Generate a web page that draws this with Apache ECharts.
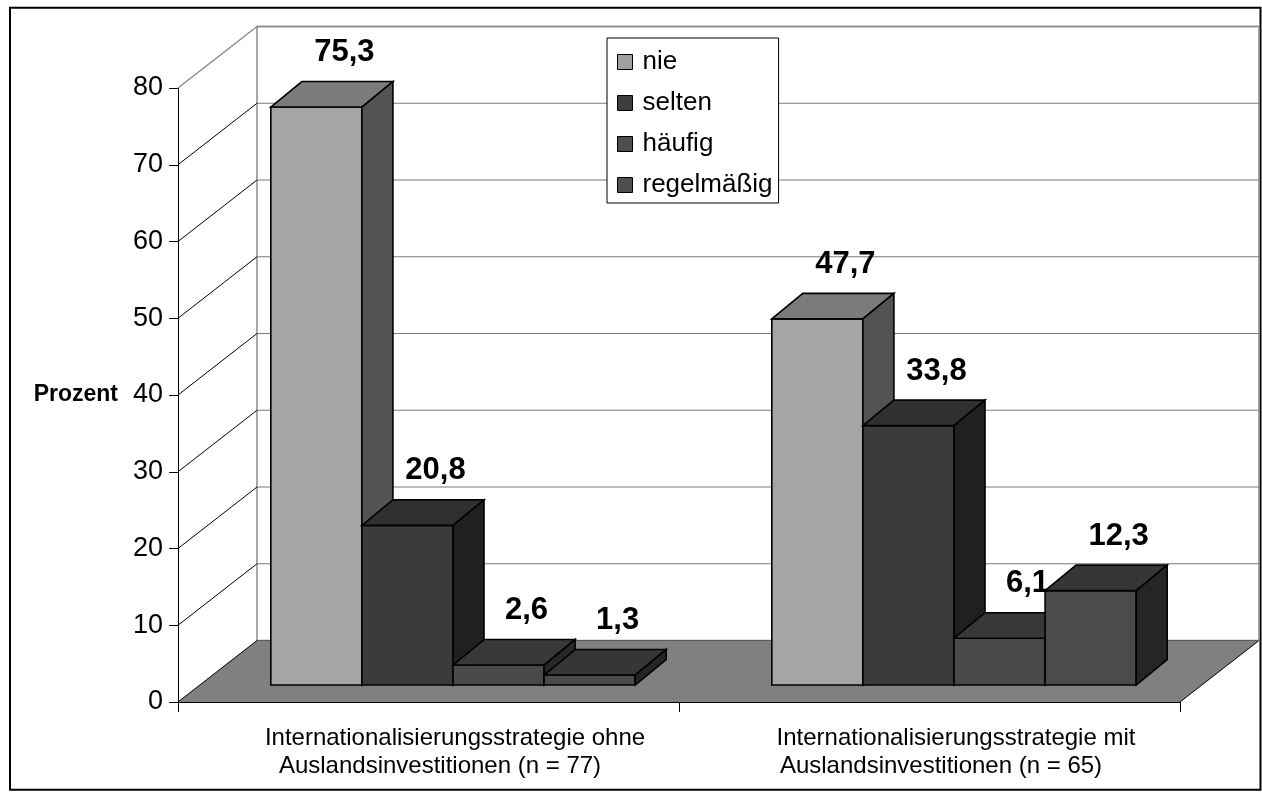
<!DOCTYPE html>
<html>
<head>
<meta charset="utf-8">
<script src="https://cdn.jsdelivr.net/npm/echarts@6/dist/echarts.min.js"></script>
<style>
  html, body { margin: 0; padding: 0; background: #ffffff; }
  #chart { width: 1262px; height: 799px; }
</style>
</head>
<body>
<div id="chart"></div>
<script>
// ---- data ----
const categoryLine1 = ['Internationalisierungsstrategie ohne', 'Internationalisierungsstrategie mit'];
const categoryLine2 = ['Auslandsinvestitionen (n = 77)', 'Auslandsinvestitionen (n = 65)'];
const seriesNames = ['nie', 'selten', 'häufig', 'regelmäßig'];
const nie = [75.3, 47.7];
const selten = [20.8, 33.8];
const haeufig = [2.6, 6.1];
const regelmaessig = [1.3, 12.3];
const yTicks = [0, 10, 20, 30, 40, 50, 60, 70, 80];

// ---- 3D look ----
const FONT = '"Liberation Sans", Arial, Helvetica, sans-serif';
const WALL_DEPTH = [79, -61.5];   // offset of the back wall from the front plane
const BAR_OFFSET = [24.5, -17];   // front faces of the bars sit a bit behind the front plane
const BAR_DEPTH = [31, -25.5];    // thickness of a bar, front to back
const GAP = 1.5;                  // gap between groups, in bar widths
const faces = [
  { front: '#a5a5a5', top: '#7b7b7b', side: '#535353', legend: '#a0a0a0' },
  { front: '#3b3b3b', top: '#303030', side: '#202020', legend: '#3c3c3c' },
  { front: '#494949', top: '#383838', side: '#272727', legend: '#4d4d4d' },
  { front: '#4b4b4b', top: '#363636', side: '#252525', legend: '#4f4f4f' }
];
const seriesValues = [nie, selten, haeufig, regelmaessig];

const fmt = v => v.toFixed(1).replace('.', ',');

function poly(points, fill, stroke, lw) {
  return { type: 'polygon', shape: { points }, style: { fill, stroke: stroke || null, lineWidth: lw || 0, lineJoin: 'miter' } };
}
function seg(p1, p2, stroke, lw) {
  return { type: 'line', shape: { x1: p1[0], y1: p1[1], x2: p2[0], y2: p2[1] }, style: { stroke, lineWidth: lw } };
}

// back wall + floor
function renderWalls(params, api) {
  const cs = params.coordSys;
  const [dx, dy] = WALL_DEPTH;
  const left = cs.x, right = cs.x + cs.width;
  const y0 = api.coord([0, yTicks[0]])[1];
  const yTop = api.coord([0, yTicks[yTicks.length - 1]])[1];
  return {
    type: 'group',
    children: [
      poly([[left + dx, yTop + dy], [right + dx, yTop + dy], [right + dx, y0 + dy], [left + dx, y0 + dy]], '#ffffff', '#8c8c8c', 1.5),
      poly([[left, y0], [right, y0], [right + dx, y0 + dy], [left + dx, y0 + dy]], '#808080'),
      seg([right, y0], [right + dx, y0 + dy], '#000000', 1),
      seg([left + dx, y0 + dy], [right + dx, y0 + dy], '#5a5a5a', 1)
    ]
  };
}

// grid lines on the back wall and the side wall
function renderGridLines(params, api) {
  const cs = params.coordSys;
  const [dx, dy] = WALL_DEPTH;
  const left = cs.x, right = cs.x + cs.width;
  const v = api.value(1);
  const y = api.coord([0, v])[1];
  const isTop = v === yTicks[yTicks.length - 1];
  const children = [seg([left, y], [left + dx, y + dy], isTop ? '#8c8c8c' : '#000000', isTop ? 1.5 : 1)];
  if (v !== yTicks[0]) {
    children.push(seg([left + dx, y + dy], [right + dx, y + dy], isTop ? '#8c8c8c' : '#7a7a7a', isTop ? 1.5 : 1.2));
  }
  return { type: 'group', children };
}

function barRenderer(j) {
  const f = faces[j];
  return function (params, api) {
    const ci = api.value(0), v = api.value(1);
    const band = api.size([1, 0])[0];
    const base = api.coord([ci, 0]);
    const top = api.coord([ci, v]);
    const barW = band / (seriesNames.length + GAP);
    const x0 = base[0] - band / 2 + barW * (GAP / 2 + j) + BAR_OFFSET[0];
    const x1 = x0 + barW;
    const yb = base[1] + BAR_OFFSET[1];
    const yt = top[1] + BAR_OFFSET[1];
    const [dx, dy] = BAR_DEPTH;
    const lw = 1.6;
    return {
      type: 'group',
      children: [
        poly([[x0, yt], [x1, yt], [x1, yb], [x0, yb]], f.front, '#000', lw),
        poly([[x0, yt], [x0 + dx, yt + dy], [x1 + dx, yt + dy], [x1, yt]], f.top, '#000', lw),
        poly([[x1, yt], [x1 + dx, yt + dy], [x1 + dx, yb + dy], [x1, yb]], f.side, '#000', lw),
        {
          type: 'text', z2: 100,
          x: (x0 + x1) / 2 + 28, y: yt + dy - 29,
          style: { text: fmt(v), fill: '#000', font: 'bold 31px ' + FONT, align: 'center', verticalAlign: 'middle' }
        }
      ]
    };
  };
}

const series = [
  {
    type: 'custom', name: 'Wand', renderItem: renderWalls, data: [[0, 0]], clip: false, silent: true, z: 1
  },
  {
    type: 'custom', name: 'Gitter', renderItem: renderGridLines, data: yTicks.map(v => [0, v]), clip: false, silent: true, z: 1
  }
].concat(seriesNames.map((name, j) => ({
  type: 'custom',
  name,
  renderItem: barRenderer(j),
  data: seriesValues[j].map((v, i) => [i, v]),
  itemStyle: { color: faces[j].legend, borderColor: '#000', borderWidth: 1 },
  clip: false,
  z: 2
})));

const chart = echarts.init(document.getElementById('chart'), null, { renderer: 'canvas' });
chart.setOption({
  animation: false,
  backgroundColor: '#ffffff',
  textStyle: { fontFamily: FONT },
  grid: { left: 178, top: 88, width: 1002, height: 614 },
  legend: {
    data: seriesNames,
    orient: 'vertical',
    left: 607, top: 38,
    padding: [11, 6, 5, 10],
    itemGap: 15,
    itemWidth: 15, itemHeight: 15,
    icon: 'rect',
    backgroundColor: '#ffffff',
    borderColor: '#000000', borderWidth: 1,
    itemStyle: { borderColor: '#000', borderWidth: 1 },
    textStyle: { fontFamily: FONT, fontSize: 26, color: '#000', padding: [0, 0, 0, 5] }
  },
  xAxis: {
    type: 'category',
    data: categoryLine1,
    axisLine: { lineStyle: { color: '#000', width: 1 } },
    axisTick: { show: true, length: 10, lineStyle: { color: '#000' } },
    axisLabel: {
      interval: 0,
      margin: 22,
      padding: [0, 0, 0, 53],
      formatter: (val, idx) => '{a|' + categoryLine1[idx] + '}\n{b|' + categoryLine2[idx] + '}',
      rich: {
        a: { fontFamily: FONT, fontSize: 24, lineHeight: 28, color: '#000' },
        b: { fontFamily: FONT, fontSize: 24, lineHeight: 28, color: '#000', padding: [0, 30, 0, 0] }
      }
    }
  },
  yAxis: {
    type: 'value',
    min: 0, max: 80, interval: 10,
    name: 'Prozent',
    nameLocation: 'middle',
    nameRotate: 0,
    nameGap: 60,
    nameTextStyle: { fontFamily: FONT, fontWeight: 'bold', fontSize: 23, color: '#000', align: 'right', verticalAlign: 'middle' },
    axisLine: { show: true, lineStyle: { color: '#000', width: 1 } },
    axisTick: { show: true, length: 9, lineStyle: { color: '#000' } },
    axisLabel: { fontFamily: FONT, fontSize: 27, color: '#000', margin: 15 },
    splitLine: { show: false }
  },
  graphic: [{
    type: 'rect', silent: true,
    shape: { x: 10, y: 7.7, width: 1250.5, height: 782 },
    style: { fill: 'none', stroke: '#000', lineWidth: 2 }
  }],
  series
});
</script>
</body>
</html>
